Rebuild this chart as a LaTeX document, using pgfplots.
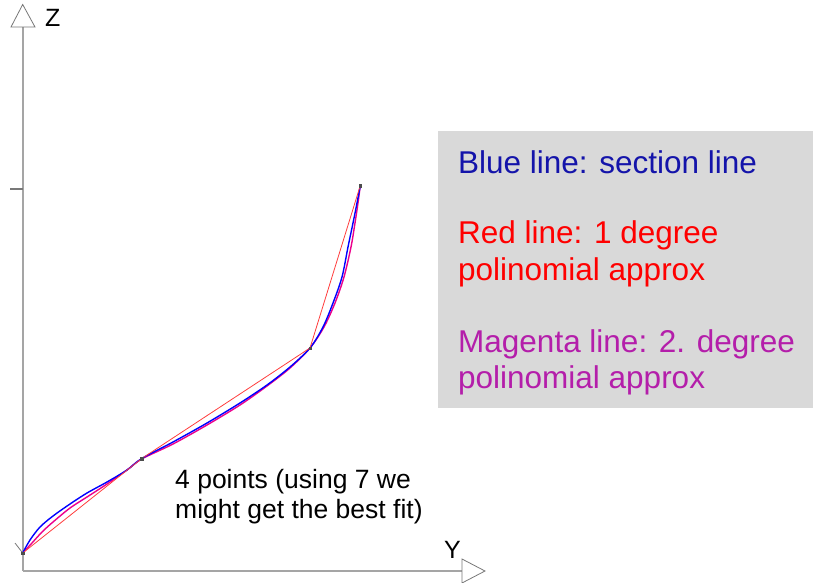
\documentclass[border=0pt]{standalone}
\usepackage{pgfplots}
\pgfplotsset{compat=1.18}
\usepackage{fontspec}
\setmainfont{Liberation Sans}
\definecolor{txtblue}{RGB}{20,20,170}
\definecolor{txtmag}{RGB}{180,30,170}
\definecolor{linered}{RGB}{255,60,60}
\definecolor{axgray}{RGB}{165,165,165}
\definecolor{trigray}{RGB}{120,120,120}
\definecolor{boxgray}{RGB}{217,217,217}
\begin{document}
\begin{tikzpicture}
\begin{axis}[
  scale only axis, width=813pt, height=583pt,
  xmin=0, xmax=813, ymin=0, ymax=583, y dir=reverse,
  hide axis, clip=false,
]
% legend box
\fill[boxgray] (axis cs:438,131) rectangle (axis cs:813,408);
\node[anchor=base west, inner sep=0pt, font=\fontsize{31.5}{36}\selectfont, text=txtblue] at (axis cs:458,173) {Blue line: section line};
\node[anchor=base west, inner sep=0pt, font=\fontsize{31.5}{36}\selectfont, text=red] at (axis cs:458,243) {Red line: 1 degree};
\node[anchor=base west, inner sep=0pt, font=\fontsize{31.5}{36}\selectfont, text=red] at (axis cs:458,280) {polinomial approx};
\node[anchor=base west, inner sep=0pt, font=\fontsize{31.5}{36}\selectfont, text=txtmag] at (axis cs:458,352) {Magenta line: 2. degree};
\node[anchor=base west, inner sep=0pt, font=\fontsize{31.5}{36}\selectfont, text=txtmag] at (axis cs:458,388) {polinomial approx};
% axes
\draw[axgray, line width=1.6pt] (axis cs:22.7,571) -- (axis cs:22.7,27);
\draw[axgray, line width=1.6pt] (axis cs:22.7,571) -- (axis cs:462,571);
\draw[trigray, line width=0.8pt, fill=white] (axis cs:22.7,4.5) -- (axis cs:11,27) -- (axis cs:35,27) -- cycle;
\draw[trigray, line width=0.8pt, fill=white] (axis cs:485,571) -- (axis cs:462,559) -- (axis cs:462,583) -- cycle;
\draw[trigray, line width=1.2pt] (axis cs:10,189) -- (axis cs:22.7,189);
\draw[trigray, line width=0.8pt] (axis cs:15,543) -- (axis cs:22.7,553);
\node[anchor=base west, inner sep=0pt, font=\fontsize{25}{30}\selectfont] at (axis cs:45,27) {Z};
\node[anchor=base west, inner sep=0pt, font=\fontsize{25}{30}\selectfont] at (axis cs:444,558) {Y};
% annotation
\node[anchor=base west, inner sep=0pt, font=\fontsize{26.5}{31}\selectfont] at (axis cs:175,488) {4 points (using 7 we};
\node[anchor=base west, inner sep=0pt, font=\fontsize{26.5}{31}\selectfont] at (axis cs:175,518) {might get the best fit)};
% curves
\addplot[magenta, line width=1.4pt, smooth, tension=0.5] coordinates {
(22.7,553) (32,543) (42,532) (53,522) (70,508) (87,497) (107,484) (127,470) (141.7,459)
(173,444) (207,425) (240,405) (267,386) (290,368) (310,348)
(324,327) (335,303) (344,277) (351,247) (355,223) (358,203) (360.3,185.5)};
\addplot[blue, line width=1.4pt, smooth, tension=0.5] coordinates {
(22.7,553) (30,540) (40,527) (53,516) (70,504) (87,493) (107,482) (127,470) (141.7,458.5)
(173,442) (207,423) (240,403) (267,385) (290,367) (310,348)
(323,327) (333,303) (342,277) (348,247) (353,223) (357,203) (360.3,185.5)};
\addplot[linered, line width=0.8pt] coordinates {(22.7,553) (141.7,458.5) (310,348) (360.3,185.5)};
\addplot[only marks, mark=square*, mark size=1.2pt, black!70] coordinates {(22.7,553) (141.7,458.5) (310,348) (360.3,185.5)};
\end{axis}
\pgfresetboundingbox
\path (0,0) rectangle (813pt,583pt);
\end{tikzpicture}
\end{document}
